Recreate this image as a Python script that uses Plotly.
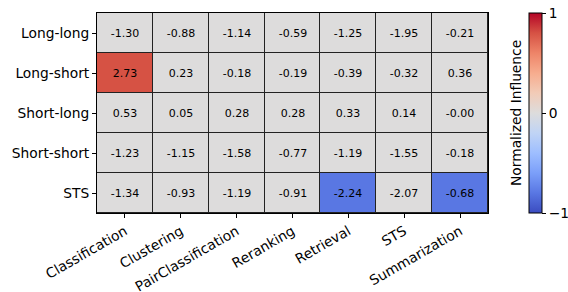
import plotly.graph_objects as go

rows = ["Long-long", "Long-short", "Short-long", "Short-short", "STS"]
cols = ["Classification", "Clustering", "PairClassification", "Reranking",
        "Retrieval", "STS", "Summarization"]
values = [
    [-1.30, -0.88, -1.14, -0.59, -1.25, -1.95, -0.21],
    [2.73, 0.23, -0.18, -0.19, -0.39, -0.32, 0.36],
    [0.53, 0.05, 0.28, 0.28, 0.33, 0.14, -0.00],
    [-1.23, -1.15, -1.58, -0.77, -1.19, -1.55, -0.18],
    [-1.34, -0.93, -1.19, -0.91, -2.24, -2.07, -0.68],
]
normalized = [
    [0, 0, 0, 0, 0, 0, 0],
    [0.8, 0, 0, 0, 0, 0, 0],
    [0, 0, 0, 0, 0, 0, 0],
    [0, 0, 0, 0, 0, 0, 0],
    [0, 0, 0, 0, -0.8, 0, -0.8],
]

coolwarm_hex = ["#3b4cc0", "#5977e3", "#7b9ff9", "#9ebeff", "#c0d4f5", "#dddcdc",
                "#f2cbb7", "#f7ac8e", "#ee8468", "#d65244", "#b40426"]
coolwarm = [[i / 10, c] for i, c in enumerate(coolwarm_hex)]

text = [[f"{v:.2f}" for v in r] for r in values]

FONT = "DejaVu Sans"
W, H = 568, 292
L, R, T, B = 97, 80, 13, 79
pw = W - L - R

fig = go.Figure(go.Heatmap(
    z=normalized, x=cols, y=rows, text=text, texttemplate="%{text}",
    textfont=dict(family=FONT, size=11, color="black"),
    colorscale=coolwarm, zmin=-1, zmax=1, xgap=1, ygap=1,
    colorbar=dict(
        x=(529 - L) / pw, xanchor="left", xref="paper", xpad=0, ypad=0,
        y=0.5, yanchor="middle", len=1, lenmode="fraction",
        thickness=13, outlinewidth=1, outlinecolor="black",
        tickvals=[-1, 0, 1], ticktext=["\u22121", "0", "1"],
        ticks="outside", ticklen=4, tickcolor="black",
        tickfont=dict(family=FONT, size=13.8, color="black"),
    ),
    hoverinfo="skip",
))

fig.add_annotation(
    text="Normalized Influence", textangle=-90, xref="paper", yref="paper",
    x=(516 - L) / pw, y=0.5, xanchor="center", yanchor="middle", showarrow=False,
    font=dict(family=FONT, size=13.8, color="black"),
)

fig.update_xaxes(
    tickangle=-30, ticks="outside", ticklen=4, tickcolor="black",
    showline=True, linecolor="black", linewidth=1, mirror=True,
    tickfont=dict(family=FONT, size=13.8, color="black"), showgrid=False,
    automargin=False,
)
fig.update_yaxes(
    autorange="reversed", ticks="outside", ticklen=4, tickcolor="black",
    showline=True, linecolor="black", linewidth=1, mirror=True,
    tickfont=dict(family=FONT, size=13.8, color="black"), showgrid=False,
    automargin=False,
)
fig.update_layout(
    width=W, height=H, margin=dict(l=L, r=R, t=T, b=B, autoexpand=False),
    plot_bgcolor="#222222", paper_bgcolor="white",
    font=dict(family=FONT, color="black"),
)
fig.write_html("out.html", config={"displayModeBar": False},
               post_script="document.body.style.margin='0';")
